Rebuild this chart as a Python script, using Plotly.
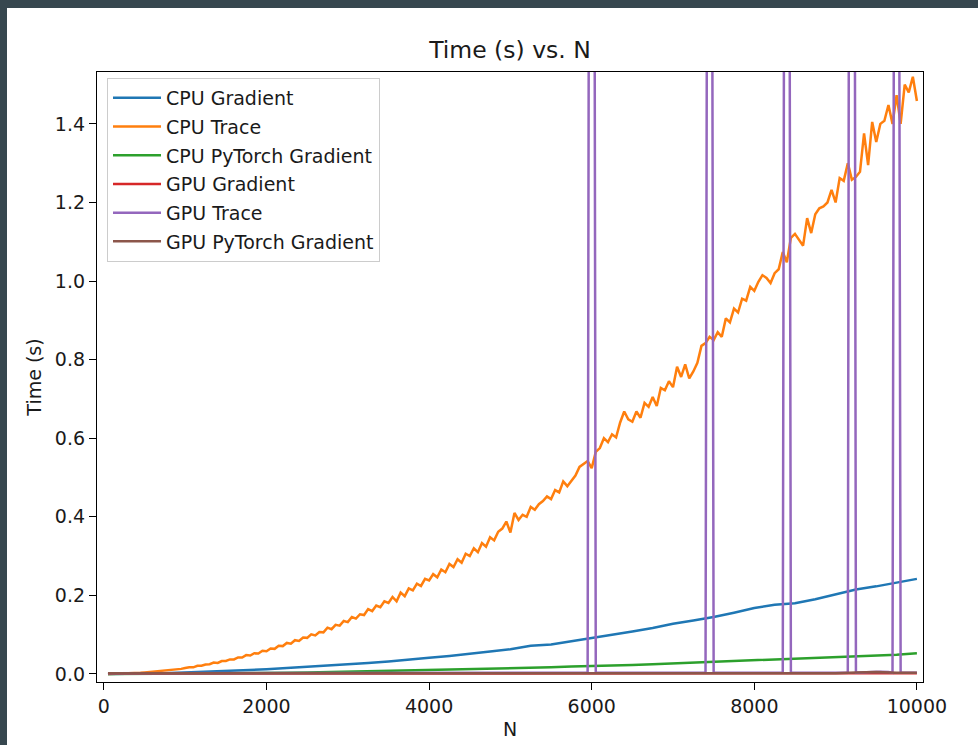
import plotly.graph_objects as go

# ---------------- data ----------------
n_fine = list(range(50, 10001, 50))
n_coarse = [50] + list(range(250, 10001, 250))

cpu_trace = [
    0.000, 0.000, 0.001, 0.001, 0.001, 0.002, 0.002, 0.003, 0.003, 0.004,
    0.005, 0.005, 0.007, 0.007, 0.009, 0.009, 0.011, 0.012, 0.013, 0.015,
    0.017, 0.017, 0.021, 0.021, 0.024, 0.025, 0.029, 0.028, 0.033, 0.033,
    0.037, 0.037, 0.042, 0.042, 0.048, 0.047, 0.053, 0.052, 0.059, 0.058,
    0.065, 0.064, 0.072, 0.071, 0.079, 0.077, 0.086, 0.084, 0.093, 0.092,
    0.101, 0.098, 0.107, 0.106, 0.118, 0.114, 0.125, 0.123, 0.135, 0.132,
    0.145, 0.141, 0.152, 0.150, 0.165, 0.160, 0.174, 0.170, 0.185, 0.181,
    0.196, 0.185, 0.207, 0.198, 0.218, 0.213, 0.230, 0.224, 0.242, 0.238,
    0.254, 0.246, 0.266, 0.259, 0.280, 0.272, 0.292, 0.283, 0.306, 0.300,
    0.320, 0.310, 0.333, 0.324, 0.348, 0.340, 0.362, 0.370, 0.388, 0.360,
    0.410, 0.392, 0.405, 0.400, 0.425, 0.418, 0.432, 0.440, 0.452, 0.445,
    0.468, 0.462, 0.490, 0.478, 0.492, 0.505, 0.527, 0.535, 0.542, 0.524,
    0.565, 0.575, 0.600, 0.590, 0.610, 0.602, 0.640, 0.668, 0.648, 0.642,
    0.668, 0.652, 0.690, 0.680, 0.705, 0.682, 0.728, 0.722, 0.745, 0.730,
    0.782, 0.756, 0.788, 0.752, 0.770, 0.792, 0.835, 0.842, 0.858, 0.850,
    0.870, 0.858, 0.905, 0.895, 0.930, 0.920, 0.955, 0.950, 0.985, 0.975,
    0.998, 1.015, 1.008, 0.995, 1.020, 1.030, 1.074, 1.048, 1.110, 1.120,
    1.105, 1.090, 1.160, 1.122, 1.170, 1.185, 1.190, 1.200, 1.232, 1.200,
    1.262, 1.255, 1.300, 1.258, 1.265, 1.278, 1.376, 1.295, 1.405, 1.354,
    1.400, 1.408, 1.448, 1.400, 1.473, 1.400, 1.500, 1.480, 1.520, 1.458,
]

cpu_gradient = [
    0.000,
    0.000, 0.001, 0.002, 0.004, 0.005, 0.007, 0.010, 0.012, 0.015, 0.018,
    0.021, 0.025, 0.028, 0.032, 0.036, 0.041, 0.046, 0.051, 0.057, 0.063,
    0.072, 0.075, 0.083, 0.091, 0.099, 0.108, 0.117, 0.128, 0.136, 0.145,
    0.156, 0.168, 0.176, 0.180, 0.190, 0.203, 0.215, 0.223, 0.233, 0.242,
]

cpu_torch_gradient = [
    0.000,
    0.000, 0.000, 0.001, 0.001, 0.001, 0.002, 0.002, 0.003, 0.003, 0.004,
    0.005, 0.006, 0.007, 0.008, 0.009, 0.011, 0.012, 0.013, 0.014, 0.015,
    0.016, 0.017, 0.019, 0.020, 0.022, 0.023, 0.025, 0.027, 0.029, 0.031,
    0.033, 0.035, 0.036, 0.038, 0.040, 0.042, 0.044, 0.046, 0.049, 0.053,
]

gpu_gradient = [
    0.001,
    0.001, 0.001, 0.001, 0.001, 0.001, 0.001, 0.001, 0.001, 0.001, 0.001,
    0.001, 0.001, 0.001, 0.001, 0.001, 0.001, 0.001, 0.001, 0.001, 0.001,
    0.001, 0.001, 0.001, 0.001, 0.001, 0.001, 0.001, 0.001, 0.001, 0.001,
    0.001, 0.001, 0.001, 0.001, 0.001, 0.002, 0.002, 0.002, 0.002, 0.002,
]

gpu_torch_gradient = [
    0.002,
    0.002, 0.002, 0.002, 0.002, 0.002, 0.002, 0.002, 0.002, 0.002, 0.002,
    0.002, 0.002, 0.002, 0.002, 0.002, 0.002, 0.002, 0.002, 0.002, 0.002,
    0.002, 0.002, 0.002, 0.002, 0.002, 0.002, 0.002, 0.002, 0.002, 0.002,
    0.002, 0.002, 0.002, 0.002, 0.002, 0.002, 0.004, 0.005, 0.003, 0.003,
]

gpu_trace_n = [50, 1000, 2000, 3000, 4000, 5000, 5950, 6000, 6050, 7000,
               7400, 7450, 7500, 8000, 8350, 8400, 8450, 9000, 9150, 9200,
               9250, 9450, 9550, 9650, 9700, 9750, 9800, 10000]
gpu_trace = [0.002, 0.002, 0.002, 0.003, 0.003, 0.003, 0.003, 6.0, 0.003, 0.003,
             0.003, 5.0, 0.003, 0.003, 0.003, 5.5, 0.003, 0.003, 0.003, 6.5,
             0.003, 0.005, 0.006, 0.005, 0.003, 5.0, 0.003, 0.003]

x_ticks = [0, 2000, 4000, 6000, 8000, 10000]
x_tick_labels = ["0", "2000", "4000", "6000", "8000", "10000"]
y_ticks = [0.0, 0.2, 0.4, 0.6, 0.8, 1.0, 1.2, 1.4]
y_tick_labels = ["0.0", "0.2", "0.4", "0.6", "0.8", "1.0", "1.2", "1.4"]

colors = ["#1f77b4", "#ff7f0e", "#2ca02c", "#d62728", "#9467bd", "#8c564b"]

series = [
    ("CPU Gradient", n_coarse, cpu_gradient),
    ("CPU Trace", n_fine, cpu_trace),
    ("CPU PyTorch Gradient", n_coarse, cpu_torch_gradient),
    ("GPU Gradient", n_coarse, gpu_gradient),
    ("GPU Trace", gpu_trace_n, gpu_trace),
    ("GPU PyTorch Gradient", n_coarse, gpu_torch_gradient),
]

# ---------------- figure ----------------
W, H = 978, 745
L, R, T, B = 97, 55, 72, 63
pw, ph = W - L - R, H - T - B
TXT = "#1a1a1a"
FF = "DejaVu Sans"

fig = go.Figure()
for i, (name, xs, ys) in enumerate(series):
    fig.add_trace(go.Scatter(
        x=xs, y=ys, mode="lines", name=name,
        line=dict(color=colors[i], width=2.5),
        legendgroup=name,
    ))

axis_common = dict(
    showgrid=False, zeroline=False, showline=True, linecolor="black",
    linewidth=1.3, mirror=True, ticks="outside", ticklen=7, tickwidth=1.3,
    tickcolor="black", tickfont=dict(family=FF, size=19, color=TXT),
)

fig.update_layout(
    width=W, height=H,
    margin=dict(l=L, r=R, t=T, b=B, autoexpand=False),
    paper_bgcolor="#37474f",
    plot_bgcolor="white",
    font=dict(family=FF, color=TXT),
    title=dict(text="Time (s) vs. N", x=0.5, xref="paper", y=1 - 50 / H,
               yref="container", xanchor="center", yanchor="middle",
               font=dict(family=FF, size=23.5, color=TXT)),
    xaxis=dict(range=[-85, 10075], tickvals=x_ticks, ticktext=x_tick_labels,
               title=dict(text="N", standoff=6, font=dict(family=FF, size=19, color=TXT)),
               **axis_common),
    yaxis=dict(range=[-0.0204, 1.532], tickvals=y_ticks, ticktext=y_tick_labels,
               title=dict(text="Time (s)", standoff=8, font=dict(family=FF, size=19, color=TXT)),
               **axis_common),
    legend=dict(x=(107 - L) / pw, y=(H - B - 78) / ph, xanchor="left", yanchor="top",
                bgcolor="rgba(255,255,255,0.85)", bordercolor="#cccccc", borderwidth=1,
                font=dict(family=FF, size=19, color=TXT),
                tracegroupgap=1, traceorder="grouped", itemwidth=48),
    showlegend=True,
    shapes=[dict(type="rect", xref="paper", yref="paper", layer="below",
                 x0=(7 - L) / pw, x1=(W - L) / pw + 0.01,
                 y0=-(B + 5) / ph, y1=(H - B - 8) / ph,
                 fillcolor="white", line=dict(width=0))],
)

fig.write_html(
    "out.html",
    config={"displayModeBar": False},
    post_script="document.body.style.margin='0';document.body.style.background='#37474f';",
)
